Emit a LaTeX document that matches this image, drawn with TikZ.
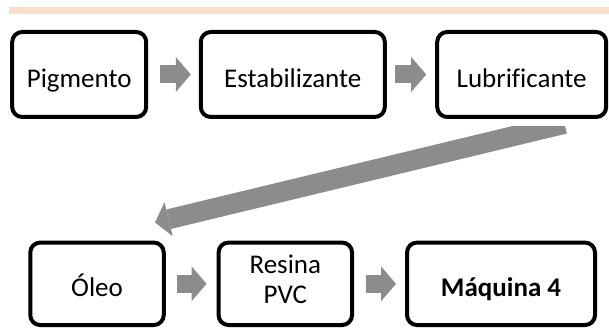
\documentclass[tikz,border=0pt]{standalone}
\usepackage{fontspec}
\setmainfont{Carlito}[Ligatures=NoCommon]
\usetikzlibrary{arrows.meta}
\definecolor{band}{RGB}{249,221,205}
\definecolor{agray}{RGB}{140,140,140}
\begin{document}
\begin{tikzpicture}[x=1pt,y=-1pt,
  box/.style={draw=black, line width=4pt, rounded corners=10pt, fill=white,
    inner sep=0pt, font=\fontsize{27}{30}\selectfont, text height=26pt, text depth=0pt},
  toprow/.style={box, minimum height=85pt},
  botrow/.style={box, minimum height=82.5pt},
  flow/.style={color=agray, line width=18pt,
    -{Triangle[length=15pt,width=35pt,line width=0pt]}},
  bigflow/.style={color=agray, line width=20pt,
    -{Triangle[length=14pt,width=35pt,line width=0pt]}}]
\useasboundingbox[fill=white] (0,0) rectangle (609,328);
\fill[band] (9,7) rectangle (609,14);
% top row
\node[toprow, minimum width=134pt] (p) at (79.2,74.5) {Pigmento};
\node[toprow, minimum width=184pt] (e) at (292.8,74.5) {Estabilizante};
\node[toprow, minimum width=169pt] (l) at (521.7,74.5) {Lubrificante};
% bottom row
\node[botrow, minimum width=133.5pt] (o) at (97,283.8) {Óleo};
\node[botrow, minimum width=133.5pt, align=center, text height=39pt, text depth=0pt] (r) at (285.3,283.8) {Resina\\PVC};
\node[botrow, minimum width=188pt, font=\fontsize{27}{30}\selectfont\bfseries] (m) at (501,283.8) {Máquina 4};
% small arrows
\draw[flow, shorten <=12pt, shorten >=8pt] (p) -- (e);
\draw[flow, shorten <=8pt, shorten >=9pt] (e) -- (l);
\draw[flow, shorten <=11pt, shorten >=10pt] (o) -- (r);
\draw[flow, shorten <=12pt, shorten >=9pt] (r) -- (m);
% big arrow
\coordinate (bt) at (564.5,123.8);
\coordinate (bh) at (155,222.5);
\begin{scope}
\clip (0,127) rectangle (609,328);
\draw[bigflow] (bt) -- (bh);
\end{scope}
\end{tikzpicture}
\end{document}
